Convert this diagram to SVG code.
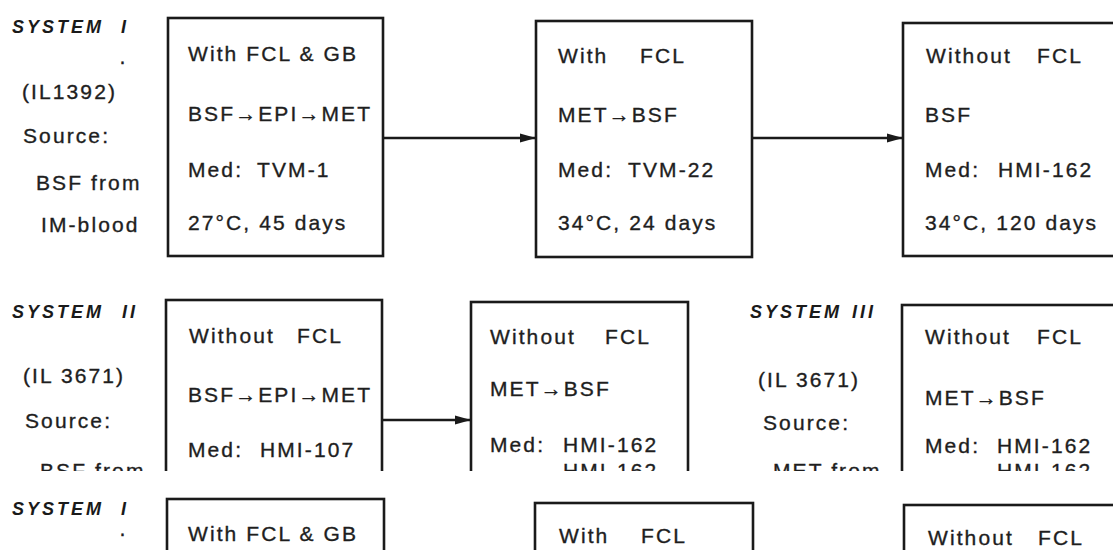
<svg xmlns="http://www.w3.org/2000/svg" width="1113" height="550" viewBox="0 0 1113 550">
<defs>
<style>
.t{font-family:'Liberation Sans',Arial,Helvetica,sans-serif;font-size:21px;letter-spacing:2.1px;fill:#1e1e1e;stroke:#1e1e1e;stroke-width:0.35px}
.h{font-family:'Liberation Sans',Arial,Helvetica,sans-serif;font-size:18px;font-weight:bold;font-style:italic;letter-spacing:3px;fill:#1a1a1a}
.box{fill:#fff;stroke:#1a1a1a;stroke-width:2.6}
.conn{stroke:#1a1a1a;stroke-width:2.6;fill:none}
</style>
<marker id="ah" markerUnits="userSpaceOnUse" markerWidth="16" markerHeight="10" refX="16" refY="5" orient="auto"><path d="M0,0.5 L16,5 L0,9.5 Z" fill="#1a1a1a"/></marker>
<clipPath id="clipMid"><rect x="0" y="0" width="1113" height="471"/></clipPath>
</defs>
<rect width="1113" height="550" fill="#fff"/>

<!-- SYSTEM I -->
<g id="sys1-label">
<text class="h" x="12" y="33">SYSTEM <tspan x="121">I</tspan></text>
<text class="t" x="119" y="68">·</text>
<text class="t" x="22" y="99">(IL1392)</text>
<text class="t" x="23" y="143">Source:</text>
<text class="t" x="36" y="190">BSF from</text>
<text class="t" x="41" y="232">IM-blood</text>
</g>
<g id="sys1-box1">
<rect class="box" x="168" y="18" width="215" height="238"/>
<text class="t" x="188" y="61">With FCL &amp; GB</text>
<text class="t" x="188" y="121">BSF→EPI→MET</text>
<text class="t" x="188" y="177">Med: <tspan x="257">TVM-1</tspan></text>
<text class="t" x="188" y="230">27°C, 45 days</text>
</g>
<g id="sys1-box2">
<rect class="box" x="536" y="21" width="216" height="236"/>
<text class="t" x="558" y="63">With <tspan x="640">FCL</tspan></text>
<text class="t" x="558" y="122">MET→BSF</text>
<text class="t" x="558" y="177">Med: <tspan x="628">TVM-22</tspan></text>
<text class="t" x="558" y="230">34°C, 24 days</text>
</g>
<g id="sys1-box3">
<rect class="box" x="903" y="23" width="260" height="233"/>
<text class="t" x="926" y="63">Without <tspan x="1037">FCL</tspan></text>
<text class="t" x="925" y="122">BSF</text>
<text class="t" x="925" y="177">Med: <tspan x="998">HMI-162</tspan></text>
<text class="t" x="925" y="230">34°C, 120 days</text>
</g>

<!-- SYSTEM II / III (cut off) -->
<g clip-path="url(#clipMid)">
<g id="sys2-label">
<text class="h" x="12" y="318">SYSTEM <tspan x="122">II</tspan></text>
<text class="t" x="23" y="383">(IL 3671)</text>
<text class="t" x="25" y="428">Source:</text>
<text class="t" x="40" y="478">BSF from</text>
</g>
<g id="sys2-box1">
<rect class="box" x="166" y="300" width="216" height="260"/>
<text class="t" x="189" y="343">Without <tspan x="297">FCL</tspan></text>
<text class="t" x="188" y="402">BSF→EPI→MET</text>
<text class="t" x="188" y="457">Med: <tspan x="260">HMI-107</tspan></text>
</g>
<g id="sys2-box2">
<rect class="box" x="471" y="302" width="217" height="260"/>
<text class="t" x="490" y="344">Without <tspan x="605">FCL</tspan></text>
<text class="t" x="490" y="396">MET→BSF</text>
<text class="t" x="490" y="452">Med: <tspan x="563">HMI-162</tspan></text>
<text class="t" x="563" y="478">HMI-162</text>
</g>
<g id="sys3-label">
<text class="h" x="750" y="318">SYSTEM <tspan x="852">III</tspan></text>
<text class="t" x="758" y="387">(IL 3671)</text>
<text class="t" x="763" y="430">Source:</text>
<text class="t" x="773" y="478">MET from</text>
</g>
<g id="sys3-box1">
<rect class="box" x="902" y="305" width="260" height="260"/>
<text class="t" x="925" y="344">Without <tspan x="1037">FCL</tspan></text>
<text class="t" x="925" y="405">MET→BSF</text>
<text class="t" x="925" y="453">Med: <tspan x="997">HMI-162</tspan></text>
<text class="t" x="997" y="478">HMI-162</text>
</g>
</g>

<!-- repeated SYSTEM I strip at bottom -->
<g id="rep-label">
<text class="h" x="12" y="515">SYSTEM <tspan x="121">I</tspan></text>
<text class="t" x="119" y="540">·</text>
</g>
<g id="rep-box1">
<rect class="box" x="167" y="499" width="217" height="100"/>
<text class="t" x="188" y="541">With FCL &amp; GB</text>
</g>
<g id="rep-box2">
<rect class="box" x="535" y="503" width="218" height="100"/>
<text class="t" x="559" y="543">With <tspan x="641">FCL</tspan></text>
</g>
<g id="rep-box3">
<rect class="box" x="904" y="505" width="260" height="100"/>
<text class="t" x="928" y="545">Without <tspan x="1038">FCL</tspan></text>
</g>

<g id="connectors">
<line class="conn" x1="383" y1="138" x2="536" y2="138" marker-end="url(#ah)"/>
<line class="conn" x1="752" y1="138" x2="903" y2="138" marker-end="url(#ah)"/>
<line class="conn" x1="382" y1="420" x2="471" y2="420" marker-end="url(#ah)"/>
</g>
</svg>
